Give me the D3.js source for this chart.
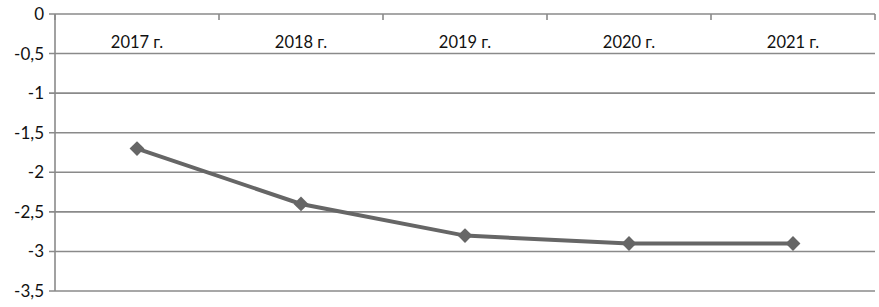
<!DOCTYPE html>
<html>
<head>
<meta charset="utf-8">
<script src="https://cdn.jsdelivr.net/npm/d3@7"></script>
<style>
  body { margin: 0; background: #fff; }
  svg text { font-family: Lato, "Open Sans", sans-serif; fill: #111; }
</style>
</head>
<body>
<div id="chart"></div>
<script>
// data
var years = ["2017 г.", "2018 г.", "2019 г.", "2020 г.", "2021 г."];
var values = [-1.7, -2.4, -2.8, -2.9, -2.9];
var yTicks = [0, -0.5, -1, -1.5, -2, -2.5, -3, -3.5];

var width = 879, height = 307;
var margin = {top: 14, right: 4, bottom: 16, left: 55};

var svg = d3.select('#chart').append('svg')
  .attr('width', width)
  .attr('height', height);

var x = d3.scaleBand()
  .domain(years)
  .range([margin.left, width - margin.right]);

var y = d3.scaleLinear()
  .domain([-3.5, 0])
  .range([height - margin.bottom, margin.top]);

var fmt = function(d){ return String(d).replace('.', ','); };

// horizontal grid
svg.selectAll('.grid')
  .data(yTicks).enter()
  .append('line').attr('class', 'grid')
  .attr('x1', margin.left - 6)
  .attr('x2', width - margin.right)
  .attr('y1', function(d){ return y(d); })
  .attr('y2', function(d){ return y(d); })
  .style('stroke', '#8a8a8a')
  .style('stroke-width', 1.6);

// vertical axis line
svg.append('line')
  .attr('x1', margin.left).attr('x2', margin.left)
  .attr('y1', y(0)).attr('y2', y(-3.5))
  .style('stroke', '#8a8a8a').style('stroke-width', 1.6);

// y labels
svg.selectAll('.ylab')
  .data(yTicks).enter()
  .append('text').attr('class', 'ylab')
  .attr('x', margin.left - 11)
  .attr('y', function(d){ return y(d); })
  .attr('dy', '0.35em')
  .attr('text-anchor', 'end')
  .style('font-size', '17px')
  .text(fmt);

// category tick marks on the top axis (at band edges)
var edges = years.map(function(d){ return x(d); }).concat([x.range()[1]]);
svg.selectAll('.xtick')
  .data(edges).enter()
  .append('line').attr('class', 'xtick')
  .attr('x1', function(d){ return d; })
  .attr('x2', function(d){ return d; })
  .attr('y1', y(0))
  .attr('y2', y(0) + 6)
  .style('stroke', '#8a8a8a').style('stroke-width', 1.6);

// category labels
svg.selectAll('.xlab')
  .data(years).enter()
  .append('text').attr('class', 'xlab')
  .attr('x', function(d){ return x(d) + x.bandwidth() / 2; })
  .attr('y', y(0) + 28)
  .attr('dy', '0.35em')
  .attr('text-anchor', 'middle')
  .style('font-size', '16.5px')
  .text(function(d){ return d; });

// the line
var line = d3.line()
  .x(function(d, i){ return x(years[i]) + x.bandwidth() / 2; })
  .y(function(d){ return y(d); });

svg.append('path')
  .datum(values)
  .attr('d', line)
  .style('fill', 'none')
  .style('stroke', '#666')
  .style('stroke-width', 4);

// diamond markers
svg.selectAll('.marker')
  .data(values).enter()
  .append('path').attr('class', 'marker')
  .attr('d', d3.symbol().type(d3.symbolDiamond2).size(140))
  .attr('transform', function(d, i){
    return 'translate(' + (x(years[i]) + x.bandwidth() / 2) + ',' + y(d) + ')';
  })
  .style('fill', '#666');
</script>
</body>
</html>
